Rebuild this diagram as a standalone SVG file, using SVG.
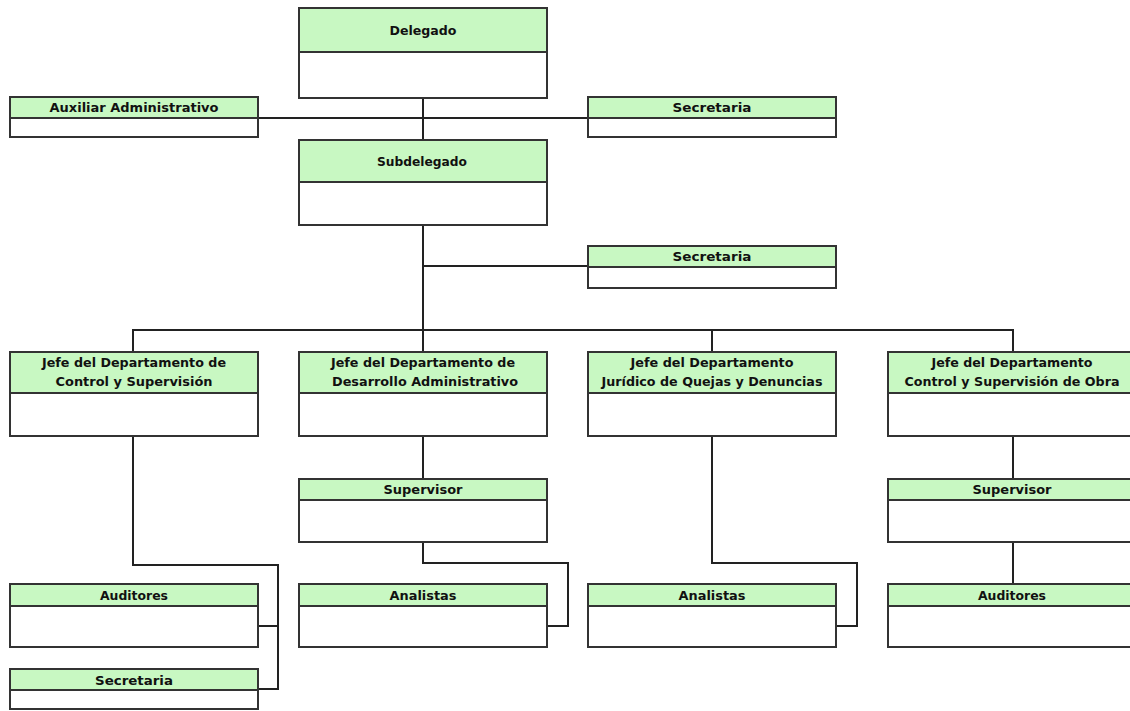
<svg xmlns="http://www.w3.org/2000/svg" width="1130" height="711" viewBox="0 0 1130 711">
<style>
.box{fill:#ffffff;stroke:#333333;stroke-width:2}
.hdr{fill:#c8f8c2;stroke:#333333;stroke-width:2}
.lbl{font-family:"DejaVu Sans","Liberation Sans",sans-serif;font-weight:bold;font-size:11.5px;fill:#111111;text-anchor:middle}
.con{fill:none;stroke:#222222;stroke-width:2}
</style>
<rect width="1130" height="711" fill="#ffffff"/>
<g id="connectors">
<path class="con" d="M423 98 V140"/>
<path class="con" d="M258 118 H588"/>
<path class="con" d="M423 225 V352"/>
<path class="con" d="M423 266 H588"/>
<path class="con" d="M133 352 V330 H1013 V352"/>
<path class="con" d="M712 330 V352"/>
<path class="con" d="M133 436 V565 H278 V689 H258"/>
<path class="con" d="M278 626 H258"/>
<path class="con" d="M423 436 V479"/>
<path class="con" d="M423 542 V563 H568 V626 H547"/>
<path class="con" d="M712 436 V563 H857 V626 H836"/>
<path class="con" d="M1013 436 V479"/>
<path class="con" d="M1013 542 V584"/>
</g>
<g id="delegado">
<rect class="box" x="299" y="8" width="248" height="90"/>
<rect class="hdr" x="299" y="8" width="248" height="44"/>
<text class="lbl" x="423" y="35" textLength="67" lengthAdjust="spacingAndGlyphs">Delegado</text>
</g>
<g id="auxiliar">
<rect class="box" x="10" y="97" width="248" height="40"/>
<rect class="hdr" x="10" y="97" width="248" height="21"/>
<text class="lbl" x="134" y="112" textLength="169" lengthAdjust="spacingAndGlyphs">Auxiliar Administrativo</text>
</g>
<g id="secretaria1">
<rect class="box" x="588" y="97" width="248" height="40"/>
<rect class="hdr" x="588" y="97" width="248" height="21"/>
<text class="lbl" x="712" y="112" textLength="79" lengthAdjust="spacingAndGlyphs">Secretaria</text>
</g>
<g id="subdelegado">
<rect class="box" x="299" y="140" width="248" height="85"/>
<rect class="hdr" x="299" y="140" width="248" height="42"/>
<text class="lbl" x="422" y="166" textLength="90" lengthAdjust="spacingAndGlyphs">Subdelegado</text>
</g>
<g id="secretaria2">
<rect class="box" x="588" y="246" width="248" height="42"/>
<rect class="hdr" x="588" y="246" width="248" height="21"/>
<text class="lbl" x="712" y="261" textLength="79" lengthAdjust="spacingAndGlyphs">Secretaria</text>
</g>
<g id="jefe1">
<rect class="box" x="10" y="352" width="248" height="84"/>
<rect class="hdr" x="10" y="352" width="248" height="41"/>
<text class="lbl" x="134" y="367" textLength="184" lengthAdjust="spacingAndGlyphs">Jefe del Departamento de</text>
<text class="lbl" x="134" y="386" textLength="157" lengthAdjust="spacingAndGlyphs">Control y Supervisión</text>
</g>
<g id="jefe2">
<rect class="box" x="299" y="352" width="248" height="84"/>
<rect class="hdr" x="299" y="352" width="248" height="41"/>
<text class="lbl" x="423" y="367" textLength="184" lengthAdjust="spacingAndGlyphs">Jefe del Departamento de</text>
<text class="lbl" x="425" y="386" textLength="186" lengthAdjust="spacingAndGlyphs">Desarrollo Administrativo</text>
</g>
<g id="jefe3">
<rect class="box" x="588" y="352" width="248" height="84"/>
<rect class="hdr" x="588" y="352" width="248" height="41"/>
<text class="lbl" x="712" y="367" textLength="163" lengthAdjust="spacingAndGlyphs">Jefe del Departamento</text>
<text class="lbl" x="712" y="386" textLength="221" lengthAdjust="spacingAndGlyphs">Jurídico de Quejas y Denuncias</text>
</g>
<g id="jefe4">
<rect class="box" x="888" y="352" width="248" height="84"/>
<rect class="hdr" x="888" y="352" width="248" height="41"/>
<text class="lbl" x="1012" y="367" textLength="161" lengthAdjust="spacingAndGlyphs">Jefe del Departamento</text>
<text class="lbl" x="1012" y="386" textLength="215" lengthAdjust="spacingAndGlyphs">Control y Supervisión de Obra</text>
</g>
<g id="supervisor2">
<rect class="box" x="299" y="479" width="248" height="63"/>
<rect class="hdr" x="299" y="479" width="248" height="21"/>
<text class="lbl" x="423" y="494" textLength="79" lengthAdjust="spacingAndGlyphs">Supervisor</text>
</g>
<g id="supervisor4">
<rect class="box" x="888" y="479" width="248" height="63"/>
<rect class="hdr" x="888" y="479" width="248" height="21"/>
<text class="lbl" x="1012" y="494" textLength="79" lengthAdjust="spacingAndGlyphs">Supervisor</text>
</g>
<g id="auditores1">
<rect class="box" x="10" y="584" width="248" height="63"/>
<rect class="hdr" x="10" y="584" width="248" height="22"/>
<text class="lbl" x="134" y="600" textLength="68" lengthAdjust="spacingAndGlyphs">Auditores</text>
</g>
<g id="secretaria3">
<rect class="box" x="10" y="669" width="248" height="40"/>
<rect class="hdr" x="10" y="669" width="248" height="21"/>
<text class="lbl" x="134" y="685" textLength="78" lengthAdjust="spacingAndGlyphs">Secretaria</text>
</g>
<g id="analistas2">
<rect class="box" x="299" y="584" width="248" height="63"/>
<rect class="hdr" x="299" y="584" width="248" height="22"/>
<text class="lbl" x="423" y="600" textLength="67" lengthAdjust="spacingAndGlyphs">Analistas</text>
</g>
<g id="analistas3">
<rect class="box" x="588" y="584" width="248" height="63"/>
<rect class="hdr" x="588" y="584" width="248" height="22"/>
<text class="lbl" x="712" y="600" textLength="67" lengthAdjust="spacingAndGlyphs">Analistas</text>
</g>
<g id="auditores4">
<rect class="box" x="888" y="584" width="248" height="63"/>
<rect class="hdr" x="888" y="584" width="248" height="22"/>
<text class="lbl" x="1012" y="600" textLength="68" lengthAdjust="spacingAndGlyphs">Auditores</text>
</g>
</svg>
